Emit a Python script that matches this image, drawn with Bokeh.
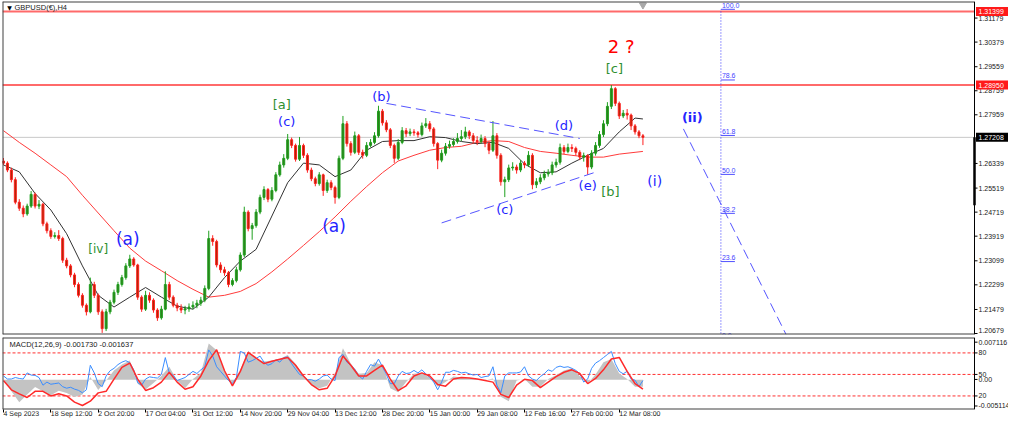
from bokeh.plotting import figure
from bokeh.models import Range1d, FixedTicker
from bokeh.layouts import column
from bokeh.embed import file_html
from bokeh.resources import INLINE
from bokeh.core.properties import value

# ---------------- data ----------------
first_open = 1.2642
close = [1.2635,1.2612,1.2580,1.2505,1.2485,1.2466,1.2492,1.2531,1.2492,1.2498,
         1.2433,1.2410,1.2391,1.2394,1.2384,1.2312,1.2293,1.2263,1.2231,1.2195,
         1.2162,1.2140,1.2231,1.2195,1.2140,1.2084,1.2140,1.2172,1.2205,1.2231,
         1.2254,1.2293,1.2316,1.2296,1.2189,1.2149,1.2195,1.2179,1.2146,1.2120,
         1.2149,1.2231,1.2189,1.2162,1.2153,1.2146,1.2150,1.2156,1.2162,1.2169,
         1.2179,1.2218,1.2384,1.2374,1.2296,1.2280,1.2270,1.2231,1.2244,1.2280,
         1.2329,1.2472,1.2417,1.2427,1.2472,1.2521,1.2547,1.2515,1.2544,1.2596,
         1.2629,1.2651,1.2713,1.2694,1.2648,1.2694,1.2661,1.2612,1.2583,1.2567,
         1.2596,1.2544,1.2570,1.2554,1.2521,1.2651,1.2766,1.2700,1.2671,1.2726,
         1.2671,1.2661,1.2694,1.2704,1.2726,1.2808,1.2769,1.2746,1.2694,1.2651,
         1.2704,1.2743,1.2733,1.2739,1.2736,1.2730,1.2759,1.2766,1.2749,1.2700,
         1.2645,1.2668,1.2691,1.2697,1.2707,1.2717,1.2723,1.2739,1.2726,1.2710,
         1.2707,1.2717,1.2700,1.2678,1.2726,1.2661,1.2573,1.2580,1.2619,1.2622,
         1.2612,1.2635,1.2629,1.2661,1.2563,1.2573,1.2586,1.2599,1.2603,1.2629,
         1.2638,1.2687,1.2674,1.2687,1.2684,1.2671,1.2655,1.2660,1.2622,1.2668,
         1.2694,1.2730,1.2766,1.2824,1.2883,1.2834,1.2792,1.2801,1.2795,1.2759,
         1.2739,1.2726,1.27208]
high = [1.2652,1.2641,1.2620,1.2588,1.2515,1.2494,1.2500,1.2542,1.2537,1.2512,
        1.2503,1.2440,1.2418,1.2405,1.2412,1.2390,1.2320,1.2299,1.2270,1.2238,
        1.2202,1.2168,1.2254,1.2240,1.2201,1.2148,1.2150,1.2180,1.2214,1.2240,
        1.2263,1.2302,1.2330,1.2322,1.2300,1.2195,1.2210,1.2205,1.2185,1.2152,
        1.2160,1.2275,1.2240,1.2195,1.2170,1.2165,1.2160,1.2168,1.2175,1.2180,
        1.2190,1.2228,1.2410,1.2395,1.2380,1.2305,1.2290,1.2276,1.2252,1.2290,
        1.2338,1.2490,1.2478,1.2436,1.2482,1.2530,1.2558,1.2552,1.2555,1.2605,
        1.2640,1.2665,1.2732,1.2720,1.2700,1.2722,1.2700,1.2668,1.2620,1.2590,
        1.2605,1.2600,1.2580,1.2578,1.2560,1.2660,1.2792,1.2775,1.2708,1.2740,
        1.2732,1.2680,1.2705,1.2715,1.2738,1.2826,1.2815,1.2778,1.2752,1.2700,
        1.2715,1.2755,1.2752,1.2750,1.2748,1.2742,1.2770,1.2785,1.2775,1.2755,
        1.2705,1.2680,1.2702,1.2710,1.2718,1.2735,1.2745,1.2756,1.2745,1.2735,
        1.2725,1.2730,1.2725,1.2708,1.2775,1.2735,1.2668,1.2590,1.2630,1.2638,
        1.2630,1.2645,1.2642,1.2675,1.2668,1.2585,1.2598,1.2610,1.2615,1.2640,
        1.2650,1.2700,1.2695,1.2700,1.2698,1.2690,1.2678,1.2670,1.2665,1.2678,
        1.2705,1.2742,1.2778,1.2838,1.2895,1.2888,1.2840,1.2812,1.2815,1.2800,
        1.2765,1.2745,1.2732]
low = [1.2628,1.2605,1.2571,1.2498,1.2476,1.2455,1.2460,1.2486,1.2484,1.2482,
       1.2425,1.2401,1.2383,1.2384,1.2376,1.2303,1.2285,1.2255,1.2222,1.2188,
       1.2154,1.2128,1.2135,1.2186,1.2130,1.2070,1.2076,1.2132,1.2165,1.2196,
       1.2224,1.2247,1.2286,1.2290,1.2180,1.2140,1.2143,1.2170,1.2137,1.2110,
       1.2114,1.2145,1.2180,1.2155,1.2142,1.2136,1.2132,1.2140,1.2148,1.2152,
       1.2160,1.2172,1.2212,1.2360,1.2288,1.2270,1.2260,1.2222,1.2225,1.2238,
       1.2274,1.2322,1.2408,1.2380,1.2420,1.2465,1.2512,1.2505,1.2508,1.2538,
       1.2590,1.2620,1.2645,1.2685,1.2640,1.2642,1.2652,1.2603,1.2575,1.2558,
       1.2560,1.2526,1.2536,1.2545,1.2500,1.2515,1.2645,1.2690,1.2660,1.2665,
       1.2662,1.2650,1.2655,1.2688,1.2698,1.2720,1.2760,1.2738,1.2685,1.2636,
       1.2645,1.2698,1.2722,1.2725,1.2726,1.2720,1.2724,1.2752,1.2740,1.2690,
       1.2615,1.2638,1.2660,1.2683,1.2690,1.2700,1.2708,1.2715,1.2715,1.2700,
       1.2695,1.2700,1.2688,1.2665,1.2672,1.2650,1.2560,1.2522,1.2572,1.2610,
       1.2600,1.2605,1.2618,1.2622,1.2548,1.2552,1.2565,1.2578,1.2590,1.2595,
       1.2620,1.2630,1.2665,1.2668,1.2672,1.2660,1.2645,1.2640,1.2596,1.2615,
       1.2660,1.2686,1.2722,1.2758,1.2815,1.2825,1.2782,1.2785,1.2780,1.2745,
       1.2730,1.2718,1.2695]

ma_bars = list(range(0, 161, 4)) + [162]
ma_fast = [1.2629,1.2606,1.2534,1.2479,1.2400,1.2293,1.2195,1.2156,1.2189,1.2221,
           1.2189,1.2159,1.2149,1.2189,1.2254,1.2309,1.2348,1.2459,1.2570,1.2635,
           1.2629,1.2590,1.2612,1.2678,1.2707,1.2710,1.2710,1.2723,1.2720,1.2707,
           1.2700,1.2704,1.2684,1.2632,1.2603,1.2606,1.2635,1.2661,1.2684,1.2739,
           1.2785,1.2782]
ma_slow = [1.2743,1.2704,1.2668,1.2629,1.2590,1.2528,1.2469,1.2410,1.2352,1.2309,
           1.2277,1.2244,1.2215,1.2189,1.2195,1.2208,1.2234,1.2273,1.2316,1.2361,
           1.2407,1.2456,1.2508,1.2557,1.2603,1.2642,1.2661,1.2678,1.2687,1.2691,
           1.2704,1.2710,1.2707,1.2687,1.2674,1.2668,1.2661,1.2655,1.2655,1.2665,
           1.2671,1.2674]

osc_blue = [47.9,43.6,43.6,45.7,44.4,43.6,52.1,49.1,48.7,45.7,
            35.0,39.3,36.3,37.2,38.0,32.9,30.8,32.1,29.5,27.8,
            24.4,28.6,62.8,52.1,37.2,32.9,47.9,55.1,58.5,63.7,
            67.1,69.2,66.2,56.4,38.5,35.0,43.6,46.6,45.7,44.9,
            50.0,73.5,52.1,48.7,41.5,43.6,45.7,50.0,54.3,51.3,
            56.4,60.7,84.2,75.7,60.7,54.3,47.9,41.5,37.2,45.7,
            82.1,79.9,67.1,69.2,72.3,75.6,67.1,62.8,65.0,70.5,
            67.1,73.5,74.4,65.0,57.3,50.0,47.9,42.7,42.7,40.6,
            43.6,47.9,49.1,43.6,41.5,73.5,77.8,67.1,62.8,57.3,
            47.9,43.6,54.3,63.7,61.6,71.4,60.7,50.0,37.2,37.2,
            47.9,54.3,51.3,52.1,55.6,52.1,56.4,50.9,45.7,39.3,
            28.6,39.3,53.0,53.0,55.6,54.3,52.1,53.0,50.9,49.1,
            50.0,45.7,47.0,47.9,60.7,35.0,24.4,47.9,52.1,52.1,
            52.1,53.4,60.7,47.9,43.6,41.5,47.0,50.9,56.4,54.3,
            59.8,61.6,59.8,60.7,58.5,55.6,51.3,39.3,43.6,58.5,
            65.8,69.2,73.5,77.8,82.1,65.0,54.3,50.9,54.3,43.6,
            42.0,33.0,41.5]

macd_bars = list(range(0, 163, 2))
macd_hist = [0.00011,-0.00206,-0.00400,-0.00260,-0.00130,-0.00206,-0.00276,-0.00195,-0.00233,-0.00304,
             -0.00260,0.00049,-0.00184,-0.00016,0.00164,0.00267,0.00337,-0.00070,-0.00173,-0.00059,
             0.00066,0.00229,-0.00016,-0.00152,0.00011,0.00120,0.00640,0.00520,0.00147,-0.00070,
             0.00174,0.00511,0.00359,0.00321,0.00337,0.00365,0.00435,0.00283,0.00066,-0.00097,
             -0.00152,-0.00108,0.00120,0.00555,0.00283,0.00104,0.00120,0.00310,0.00256,-0.00152,
             -0.00222,-0.00043,0.00104,0.00120,0.00039,-0.00124,-0.00043,0.00055,0.00039,0.00022,
             0.00011,-0.00010,0.00022,-0.00300,-0.00380,-0.00016,0.00011,-0.00124,-0.00124,0.00011,
             0.00077,0.00164,0.00202,0.00066,-0.00065,0.00093,0.00310,0.00365,0.00109,0.00011,
             -0.00124,-0.00124]
macd_signal = [-0.00016,-0.00179,-0.00250,-0.00315,-0.00206,-0.00206,-0.00287,-0.00250,-0.00287,-0.00396,
               -0.00456,-0.00380,-0.00233,-0.00206,0.00011,0.00218,0.00294,0.00011,-0.00190,-0.00141,
               -0.00043,0.00131,-0.00043,-0.00168,-0.00124,0.00066,0.00337,0.00528,0.00158,-0.00108,
               0.00147,0.00484,0.00381,0.00283,0.00326,0.00359,0.00392,0.00256,0.00066,-0.00086,
               -0.00179,-0.00152,0.00066,0.00419,0.00256,0.00066,0.00066,0.00164,0.00256,0.00011,
               -0.00195,-0.00108,0.00066,0.00120,0.00066,-0.00086,-0.00114,0.00011,0.00039,0.00028,
               0.00011,-0.00016,-0.00043,-0.00260,-0.00315,-0.00097,0.00006,-0.00016,-0.00141,-0.00043,
               0.00055,0.00131,0.00174,0.00109,-0.00070,0.00022,0.00174,0.00365,0.00392,0.00147,
               -0.00070,-0.00168]

time_tick_bars = [0, 12, 24, 36, 48, 60, 72, 84, 96, 108, 120, 132, 144, 156]
time_tick_labels = ["4 Sep 2023", "18 Sep 12:00", "2 Oct 20:00", "17 Oct 04:00", "31 Oct 12:00",
                    "14 Nov 20:00", "29 Nov 04:00", "13 Dec 12:00", "28 Dec 20:00", "15 Jan 00:00",
                    "29 Jan 08:00", "12 Feb 16:00", "27 Feb 00:00", "12 Mar 08:00"]
price_ticks = [1.31179, 1.30379, 1.29559, 1.28759, 1.27959, 1.26339, 1.25519,
               1.24719, 1.23919, 1.23099, 1.22299, 1.21479, 1.20679]
level_upper = 1.31399
level_lower = 1.28950
last_price = 1.27208
last_bar_low = 1.2495
fib_levels = [100.0, 78.6, 61.8, 50.0, 38.2, 23.6, 0.0]
fib_high = 1.3147
fib_low = 1.2048
osc_levels = [80, 50, 20]
osc_axis_ticks = [95, 80, 50, 43, 20, 6]
osc_axis_labels = ["0.007116", "80", "50", "0.00", "20", "-0.005114"]

symbol_title = "GBPUSD(\u20ac),H4"
macd_title = "MACD(12,26,9) -0.001730 -0.001637"

# wave labels: text, bar, price, colour, size, bold
wave_labels = [
    ("[iv]", 24.0, 1.2348, "#2f8f2f", "12px", False),
    ("(a)", 31.5, 1.2381, "#2424ff", "17px", False),
    ("[a]", 70.5, 1.2831, "#2f8f2f", "13px", False),
    ("(c)", 71.75, 1.2775, "#2424ff", "13px", False),
    ("(a)", 83.75, 1.2427, "#2424ff", "17px", False),
    ("(b)", 95.75, 1.2857, "#2424ff", "13px", False),
    ("(c)", 127.0, 1.2482, "#2424ff", "13px", False),
    ("(d)", 142.0, 1.2759, "#2424ff", "13px", False),
    ("(e)", 148.0, 1.2560, "#2424ff", "13px", False),
    ("[b]", 153.75, 1.2541, "#2f8f2f", "13px", False),
    ("(i)", 165.0, 1.2576, "#2424ff", "14px", False),
    ("(ii)", 174.5, 1.2788, "#2424ff", "13px", True),
    ("[c]", 154.75, 1.2951, "#2f8f2f", "13px", False),
    ("2 ?", 156.5, 1.3023, "#ff0000", "18px", False),
]
edge_labels = [("[v]", 17.0, 1.2046, "#2f8f2f"), ("(c)", 47.0, 1.2046, "#2424ff")]
# trend lines: bar0, price0, bar1, price1
trend_lines = [
    (97.0, 1.2834, 146.0, 1.2717),
    (111.0, 1.2436, 150.25, 1.2606),
    (172.25, 1.2749, 198.25, 1.2065),
]
fib_bar = 181.75

# ---------------- layout constants ----------------
W = 1008
X0, AXIS_X = -0.25, 246.0          # chart area in bar units; price scale starts at AXIS_X
UNIT = (982 - 10) / (AXIS_X - X0)  # px per bar
X1 = X0 + (W - 2) / UNIT
PY0, PY1 = 1.20646, 1.31730
MAIN_FRAME_H = 333
PPX = (PY1 - PY0) / MAIN_FRAME_H   # price per px
OY0, OY1 = 1.1, 101.5
MACD_FRAME_H = 72
OPX = (OY1 - OY0) / MACD_FRAME_H
LBL_X = AXIS_X + 4 / UNIT
FONT = value("Liberation Sans")

xr = Range1d(X0, X1)

def frame_box(fig, ybot, ytop):
    # left / top / bottom borders of the chart area and the scale line
    fig.segment(x0=[X0, X0, X0], y0=[ybot, ytop, ybot], x1=[X0, AXIS_X, AXIS_X], y1=[ytop, ytop, ybot],
                line_color="#404040", line_width=2)
    fig.segment(x0=[AXIS_X], y0=[ybot], x1=[AXIS_X], y1=[ytop], line_color="black", line_width=1)

# ---------------- main price panel ----------------
opens = [first_open] + close[:-1]
xs = list(range(len(close)))
up = [c >= o for o, c in zip(opens, close)]
wick_col = ["#1fa01f" if u else "#ff2020" for u in up]
body_col = ["#2e7d1a" if u else "#a82800" for u in up]

p = figure(width=W, height=335, x_range=xr, y_range=Range1d(PY0, PY1),
           output_backend="svg", toolbar_location=None,
           x_axis_location=None, y_axis_location=None,
           min_border_left=2, min_border_right=0, min_border_top=1, min_border_bottom=1,
           background_fill_color="white", border_fill_color="white", outline_line_color=None)
p.grid.visible = False

# level lines
p.segment(x0=[X0], y0=[last_price], x1=[AXIS_X], y1=[last_price], line_color="#c8c8c8", line_width=1)
p.segment(x0=[X0, X0], y0=[level_upper, level_lower], x1=[AXIS_X, AXIS_X], y1=[level_upper, level_lower],
          line_color="#ff5050", line_width=2, line_alpha=0.85)

# moving averages
p.line(ma_bars, ma_slow, line_color="#ff3b3b", line_width=1)
p.line(ma_bars, ma_fast, line_color="#333333", line_width=1)

# candles
p.segment(x0=xs, y0=low, x1=xs, y1=high, line_color=wick_col, line_width=1)
p.vbar(x=xs, bottom=opens, top=close, width=0.5, fill_color=body_col, line_color=wick_col, line_width=1)

# trend lines
for (b0, p0, b1, p1) in trend_lines:
    p.segment(x0=[b0], y0=[p0], x1=[b1], y1=[p1], line_color="#5555ff", line_width=1, line_dash="10 5")

# fibonacci line
p.segment(x0=[fib_bar], y0=[fib_low], x1=[fib_bar], y1=[fib_high], line_color="#3535ff", line_width=1, line_dash="1 2")
fib_prices = [fib_low + (fib_high - fib_low) * lv / 100.0 for lv in fib_levels]
p.segment(x0=[fib_bar] * len(fib_levels), y0=fib_prices, x1=[fib_bar + 14 / UNIT] * len(fib_levels),
          y1=fib_prices, line_color="#5050ff", line_width=1)
p.text(x=[fib_bar + 1 / UNIT] * len(fib_levels), y=[v + 1.5 * PPX for v in fib_prices],
       text=[f"{lv:.1f}" for lv in fib_levels], text_font=FONT, text_font_size="7px",
       text_align="left", text_baseline="bottom", text_color="#4545ff")

# labels cut by the bottom edge
p.text(x=[e[1] for e in edge_labels], y=[e[2] for e in edge_labels], text=[e[0] for e in edge_labels],
       text_font=value("DejaVu Sans"), text_font_size="13px", text_align="center",
       text_baseline="middle", text_color=[e[3] for e in edge_labels])

# wave labels
for (t, b, pr, col, sz, bold) in wave_labels:
    p.text(x=[b], y=[pr], text=[t], text_align="center", text_baseline="middle",
           text_font=value("DejaVu Sans"), text_font_size=sz, text_color=col,
           text_font_style="bold" if bold else "normal")

# title and shift marker
p.text(x=[X0 + 7 / UNIT], y=[PY1 - 5.5 * PPX], text=["\u25bc"], text_align="center", text_baseline="middle",
       text_font=value("DejaVu Sans"), text_font_size="6px", text_color="black")
p.text(x=[X0 + 12 / UNIT], y=[PY1 - 5.5 * PPX], text=[symbol_title], text_align="left",
       text_baseline="middle", text_font=FONT, text_font_size="7.5px", text_color="#202020")
p.scatter(x=[162], y=[PY1 - 3.5 * PPX], marker="inverted_triangle", size=7,
          fill_color="#a8a8a8", line_color="#a8a8a8")

frame_box(p, PY0, PY1)

# price scale (lowest label kept inside the panel)
label_y = [max(t, PY0 + 4.5 * PPX) for t in price_ticks]
p.segment(x0=[AXIS_X] * len(price_ticks), y0=price_ticks, x1=[AXIS_X + 3 / UNIT] * len(price_ticks),
          y1=price_ticks, line_color="black", line_width=1)
p.text(x=[LBL_X] * len(price_ticks), y=label_y, text=[f"{t:.5f}" for t in price_ticks],
       text_font=FONT, text_font_size="7px", text_align="left", text_baseline="middle", text_color="#202020")

# black bar on the scale and price tags
p.segment(x0=[AXIS_X], y0=[last_bar_low], x1=[AXIS_X], y1=[last_price], line_color="black", line_width=2.5)
tag_prices = [level_upper, level_lower, last_price]
tag_colors = ["#ff1a1a", "#ff1a1a", "#000000"]
p.quad(left=[AXIS_X + 1.5 / UNIT] * 3, right=[X1] * 3,
       bottom=[t - 4.5 * PPX for t in tag_prices], top=[t + 4.5 * PPX for t in tag_prices],
       fill_color=tag_colors, line_color=None)
p.text(x=[LBL_X] * 3, y=tag_prices, text=[f"{t:.5f}" for t in tag_prices], text_font=FONT,
       text_font_size="7px", text_align="left", text_baseline="middle", text_color="white")

# ---------------- MACD panel ----------------
m = figure(width=W, height=90, x_range=xr, y_range=Range1d(OY0, OY1),
           output_backend="svg", toolbar_location=None, y_axis_location=None,
           min_border_left=2, min_border_right=0, min_border_top=2, min_border_bottom=16,
           background_fill_color="white", border_fill_color="white", outline_line_color=None)
m.grid.visible = False
m.extra_y_ranges = {"macd": Range1d(-0.005265, 0.007449)}

m.segment(x0=[X0] * 3, y0=osc_levels, x1=[AXIS_X] * 3, y1=osc_levels,
          line_color="#ff3030", line_width=1, line_dash="3 2")
m.varea(x=macd_bars, y1=[0.0] * len(macd_bars), y2=macd_hist, fill_color="#c3c3c3",
        y_range_name="macd")
m.line(xs, osc_blue, line_color="#3a8dff", line_width=1)
m.line(macd_bars, macd_signal, line_color="#ff2a2a", line_width=1.5, y_range_name="macd")

m.text(x=[X0 + 7 / UNIT], y=[OY1 - 7 * OPX], text=[macd_title], text_align="left",
       text_baseline="middle", text_font=FONT, text_font_size="7.5px", text_color="#202020")

frame_box(m, OY0, OY1)
m.segment(x0=[AXIS_X] * len(osc_axis_ticks), y0=osc_axis_ticks,
          x1=[AXIS_X + 3 / UNIT] * len(osc_axis_ticks), y1=osc_axis_ticks, line_color="black", line_width=1)
m.text(x=[LBL_X] * len(osc_axis_ticks), y=osc_axis_ticks, text=osc_axis_labels, text_font=FONT,
       text_font_size="7px", text_align="left", text_baseline="middle", text_color="#202020")

mx = m.xaxis[0]
mx.ticker = FixedTicker(ticks=time_tick_bars)
mx.major_label_overrides = {t: s for t, s in zip(time_tick_bars, time_tick_labels)}
mx.major_label_orientation = -0.001
mx.major_label_text_font_size = "7px"
mx.major_label_text_font = "Liberation Sans"
mx.major_label_text_color = "#202020"
mx.major_tick_out = 3
mx.major_tick_in = 0
mx.major_label_standoff = 1
mx.axis_line_color = None
mx.major_tick_line_color = "black"

layout = column(p, m)
open("out.html", "w").write(file_html(layout, INLINE))
